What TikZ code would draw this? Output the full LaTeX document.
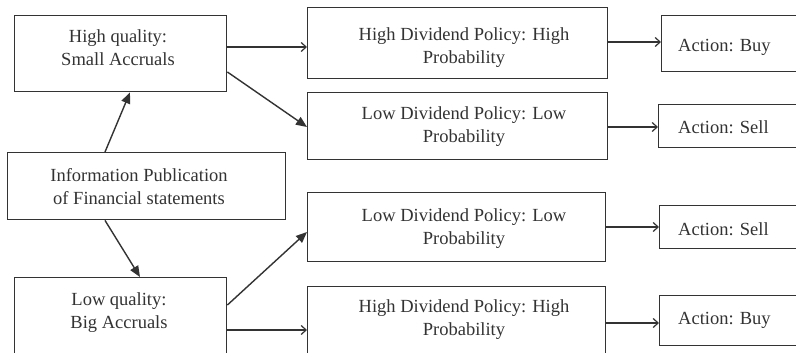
\documentclass[tikz,border=0pt]{standalone}
\usepackage{fontspec}
\setmainfont{Liberation Serif}
\usetikzlibrary{arrows.meta,calc}
\definecolor{ink}{HTML}{333333}
\begin{document}
\begin{tikzpicture}[x=1pt,y=-1pt,
  box/.style={draw=ink,line width=1.4pt,rectangle,anchor=north west,inner sep=0pt},
  txt/.style={text=ink,align=center,font=\fontsize{18.5}{23}\selectfont,inner sep=0pt},
  atxt/.style={text=ink,anchor=west,font=\fontsize{18.5}{23}\selectfont,inner sep=0pt},
  harr/.style={draw=ink,line width=1.4pt,-{Straight Barb[length=5pt,width=9pt,line width=1.2pt]}},
  darr/.style={draw=ink,line width=1.4pt,-{Triangle[length=11pt,width=9pt]}}]
\clip (0,0) rectangle (796,353);
\fill[white] (0,0) rectangle (796,353);
% boxes
\node[box,minimum width=212pt,minimum height=76pt] (hq) at (14,15) {};
\node[box,minimum width=278pt,minimum height=67pt] (info) at (7,152) {};
\node[box,minimum width=212pt,minimum height=92pt] (lq) at (14,277) {};
\node[box,minimum width=300pt,minimum height=71pt] (hdp1) at (307,7) {};
\node[box,minimum width=300pt,minimum height=67pt] (ldp1) at (307,92) {};
\node[box,minimum width=298pt,minimum height=69pt] (ldp2) at (307,192) {};
\node[box,minimum width=298pt,minimum height=70pt] (hdp2) at (307,286) {};
\node[box,minimum width=160pt,minimum height=56pt] (buy1) at (661,15) {};
\node[box,minimum width=160pt,minimum height=43pt] (sell1) at (658,104) {};
\node[box,minimum width=160pt,minimum height=43pt] (sell2) at (659,205) {};
\node[box,minimum width=160pt,minimum height=50pt] (buy2) at (659,295) {};
% texts
\node[txt] (thq) at (118,48) {High quality:\\Small Accruals};
\node[txt] (tinfo) at (139,187) {Information Publication\\of Financial statements};
\node[txt] (tlq) at (119,313) {Low quality:\\Big Accruals};
\node[txt] (thdp1) at (464,48) {High Dividend Policy: High\\Probability};
\node[txt] (tldp1) at (464,127) {Low Dividend Policy: Low\\Probability};
\node[txt] (tldp2) at (464,229) {Low Dividend Policy: Low\\Probability};
\node[txt] (thdp2) at (464,320) {High Dividend Policy: High\\Probability};
\node[atxt] (tbuy1) at (678,47) {Action: Buy};
\node[atxt] (tsell1) at (678,127) {Action: Sell};
\node[atxt] (tsell2) at (678,229) {Action: Sell};
\node[atxt] (tbuy2) at (678,320) {Action: Buy};
% connectors
\draw[darr] ([xshift=98pt]info.north west) -- ([xshift=116pt]hq.south west);
\draw[darr] ([xshift=98pt]info.south west) -- ([xshift=126pt]lq.north west);
\coordinate (a1) at ([yshift=-32pt]hq.north east);
\draw[harr] (a1) -- (a1 -| hdp1.west);
\draw[darr] ([yshift=-57pt]hq.north east) -- ([yshift=-35pt]ldp1.north west);
\draw[darr] ([yshift=-28pt]lq.north east) -- ([yshift=-40pt]ldp2.north west);
\coordinate (a2) at ([yshift=-53pt]lq.north east);
\draw[harr] (a2) -- (a2 -| hdp2.west);
\coordinate (b1) at ([yshift=-35pt]hdp1.north east);
\draw[harr] (b1) -- (b1 -| buy1.west);
\coordinate (b2) at ([yshift=-35pt]ldp1.north east);
\draw[harr] (b2) -- (b2 -| sell1.west);
\coordinate (b3) at ([yshift=-35pt]ldp2.north east);
\draw[harr] (b3) -- (b3 -| sell2.west);
\coordinate (b4) at ([yshift=-37pt]hdp2.north east);
\draw[harr] (b4) -- (b4 -| buy2.west);
\end{tikzpicture}
\end{document}
